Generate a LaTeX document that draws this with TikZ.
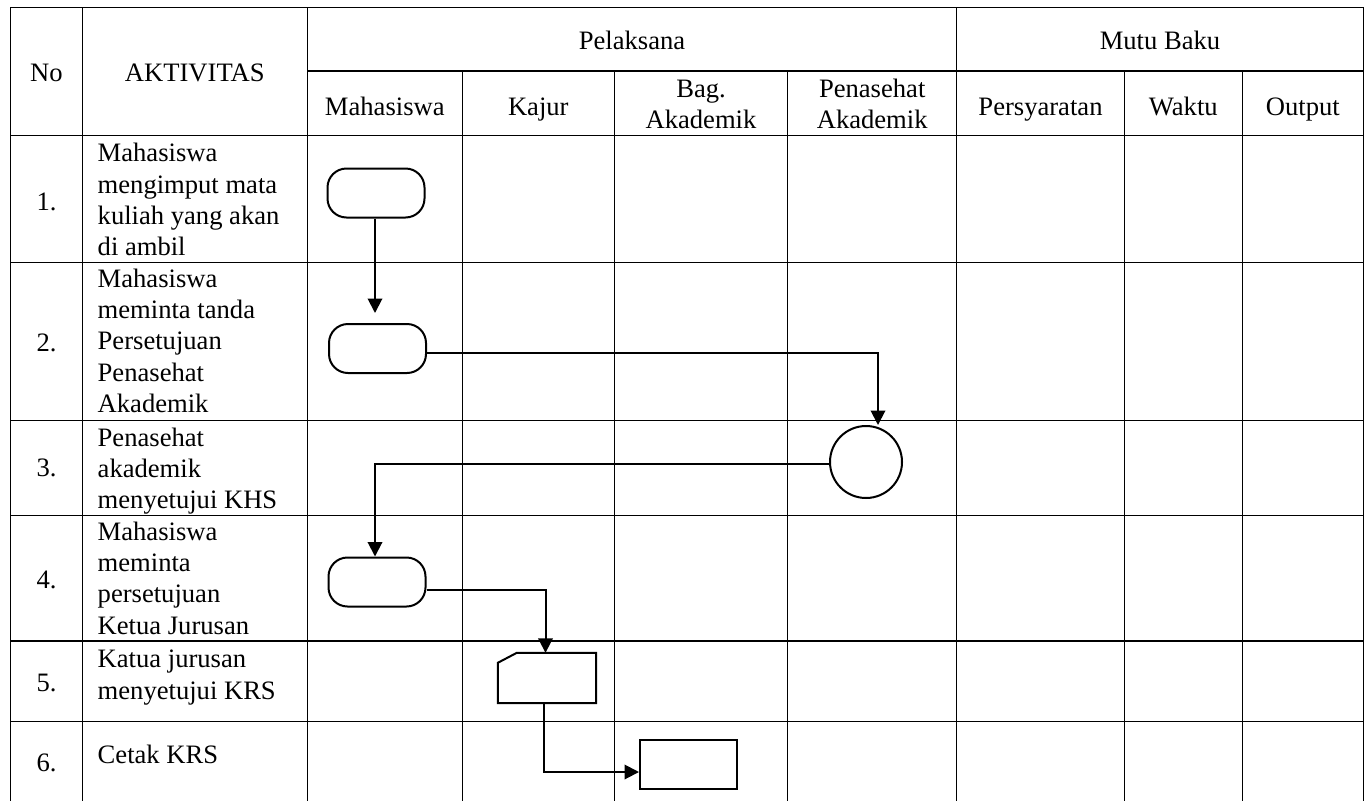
\documentclass[tikz,border=0pt]{standalone}
\usepackage{fontspec}
\setmainfont{Liberation Serif}
\usetikzlibrary{arrows.meta,calc}
\newcommand\bodyfont{\fontsize{26.6}{31.4}\selectfont}
\newcommand\hdfont{\fontsize{26.6}{30.5}\selectfont}
\begin{document}
\begin{tikzpicture}[x=1pt,y=-1pt,
  gridline/.style={line width=1.5pt},
  txt/.style={inner sep=0pt, font=\bodyfont},
  hd/.style={inner sep=0pt, font=\hdfont, anchor=base, align=center},
  term/.style={draw, line width=2pt, rounded corners=19pt, minimum width=97pt, minimum height=49pt, inner sep=0pt},
  procbox/.style={draw, line width=2pt, minimum width=97pt, minimum height=49pt, inner sep=0pt},
  arr/.style={line width=2pt, -{Triangle[length=14.5pt,width=14.5pt]}}]
\useasboundingbox (0,0) rectangle (1370,801);
% table rules
\draw[gridline] (10.7,7.3) -- (1363.3,7.3);
\draw[gridline] (307.3,71) -- (1363.3,71);
\foreach \yy in {135.5,262.3,420.7,515.7,641,721.7}
  \draw[gridline] (10.7,\yy) -- (1363.3,\yy);
\foreach \xx in {10.7,82.3,307.3,956.7,1363.3}
  \draw[gridline] (\xx,7.3) -- (\xx,801);
\foreach \xx in {462.3,614.3,787.7,1124.3,1242.3}
  \draw[gridline] (\xx,71) -- (\xx,801);
% header
\node[hd] (hno) at (46.5,81) {No};
\node[hd] (hakt) at (194.8,81) {AKTIVITAS};
\node[hd] (hpel) at (632,49) {Pelaksana};
\node[hd] (hmutu) at (1160,49) {Mutu Baku};
\node[hd] (hmhs) at (384.8,115) {Mahasiswa};
\node[hd] (hkaj) at (538.3,115) {Kajur};
\node[hd] (hbag) at (701,97.7) {\begin{tabular}[t]{@{}c@{}}Bag.\\Akademik\end{tabular}};
\node[hd] (hpa) at (872.2,97.7) {\begin{tabular}[t]{@{}c@{}}Penasehat\\Akademik\end{tabular}};
\node[hd] (hsyar) at (1040.5,115) {Persyaratan};
\node[hd] (hwak) at (1183.3,115) {Waktu};
\node[hd] (hout) at (1302.8,115) {Output};
% numbers
\node[txt, anchor=base] (n1) at (46.5,210) {1.};
\node[txt, anchor=base] (n2) at (46.5,351) {2.};
\node[txt, anchor=base] (n3) at (46.5,476.7) {3.};
\node[txt, anchor=base] (n4) at (46.5,588) {4.};
\node[txt, anchor=base] (n5) at (46.5,691.7) {5.};
\node[txt, anchor=base] (n6) at (46.5,771.7) {6.};
% activities
\node[txt, anchor=base west] (a1) at (97.5,161.7) {\parbox[t]{205pt}{\raggedright Mahasiswa\\mengimput mata\\kuliah yang akan\\di ambil}};
\node[txt, anchor=base west] (a2) at (97.5,287) {\parbox[t]{205pt}{\raggedright Mahasiswa\\meminta tanda\\Persetujuan\\Penasehat\\Akademik}};
\node[txt, anchor=base west] (a3) at (97.5,446) {\parbox[t]{205pt}{\raggedright Penasehat\\akademik\\menyetujui KHS}};
\node[txt, anchor=base west] (a4) at (97.5,540) {\parbox[t]{205pt}{\raggedright Mahasiswa\\meminta\\persetujuan\\Ketua Jurusan}};
\node[txt, anchor=base west] (a5) at (97.5,667.7) {\parbox[t]{205pt}{\raggedright Katua jurusan\\menyetujui KRS}};
\node[txt, anchor=base west] (a6) at (97.5,763) {\parbox[t]{205pt}{\raggedright Cetak KRS}};
% flow shapes
\node[term] (t1) at (376,193) {};
\node[term] (t2) at (377.5,348.5) {};
\node[draw, circle, line width=2pt, minimum size=72pt, inner sep=0pt] (c3) at (866,462) {};
\node[term] (t4) at (377,582) {};
\node[minimum width=98pt, minimum height=50pt, inner sep=0pt] (k5) at (547,678) {};
\draw[line width=2pt, line join=miter]
  (k5.south west) -- ($(k5.north west)+(0pt,-10pt)$) -- ($(k5.north west)+(19pt,0pt)$)
  -- (k5.north east) -- (k5.south east) -- cycle;
\node[procbox] (r6) at (688.5,764.5) {};
% connectors
\draw[arr, shorten >=10pt] (t1.south -| 375,0) -- (t2.north -| 375,0);
\draw[arr] ([yshift=-4.5pt]t2.east) -| ([xshift=12pt]c3.north);
\draw[arr] ([yshift=-2pt]c3.west) -| (t4.north -| 375,0);
\draw[arr] ([yshift=-8pt]t4.east) -| ([xshift=-1.5pt]k5.north);
\draw[arr] ([xshift=-3.3pt]k5.south) |- ([yshift=-7.5pt]r6.west);
\end{tikzpicture}
\end{document}
